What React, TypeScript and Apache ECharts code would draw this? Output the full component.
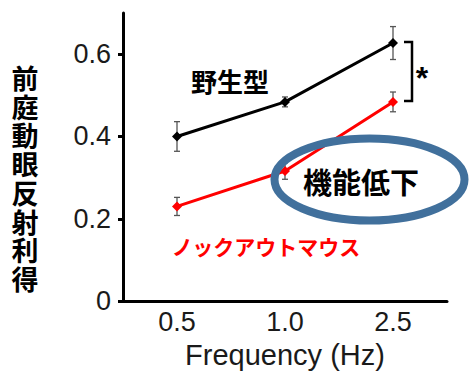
import React, { useEffect, useRef } from "react";
import * as echarts from "echarts";

const categories = ["0.5", "1.0", "2.5"];
const wildType = [0.4, 0.484, 0.627];
const wildTypeErr = [0.036, 0.012, 0.04];
const knockout = [0.23, 0.316, 0.484];
const knockoutErr = [0.022, 0.02, 0.024];
const yTicks = [0, 0.2, 0.4, 0.6];
const yTitle = "前庭動眼反射利得";
const xTitle = "Frequency (Hz)";
const wildLabel = "野生型";
const koLabel = "ノックアウトマウス";
const noteLabel = "機能低下";

const CJK = '"Noto Sans CJK JP", "Noto Sans CJK SC", sans-serif';
const LAT = '"Liberation Sans", Arial, sans-serif';

function errData(vals: number[], errs: number[]) {
  return vals.map((v, i) => [i, v - errs[i], v + errs[i]]);
}

function errRender(params: any, api: any) {
  const x = api.value(0);
  const lo = api.coord([x, api.value(1)]);
  const hi = api.coord([x, api.value(2)]);
  const w = 3;
  const style = { stroke: "#555", lineWidth: 1.3 };
  return {
    type: "group",
    children: [
      { type: "line", shape: { x1: lo[0], y1: lo[1], x2: hi[0], y2: hi[1] }, style },
      { type: "line", shape: { x1: lo[0] - w, y1: lo[1], x2: lo[0] + w, y2: lo[1] }, style },
      { type: "line", shape: { x1: hi[0] - w, y1: hi[1], x2: hi[0] + w, y2: hi[1] }, style },
    ],
  };
}

export default function App() {
  const ref = useRef<HTMLDivElement>(null);
  useEffect(() => {
    if (!ref.current) return;
    const chart = echarts.init(ref.current, undefined, { renderer: "svg" });
    chart.setOption({
      animation: false,
      grid: { left: 123, right: 23, top: 13, bottom: 69 },
      xAxis: {
        type: "category",
        data: categories,
        boundaryGap: true,
        axisLine: { lineStyle: { color: "#000", width: 3 } },
        axisTick: { show: false },
        axisLabel: { fontFamily: LAT, fontSize: 27, color: "#1a1a1a", margin: 7 },
        name: xTitle,
        nameLocation: "middle",
        nameGap: 38,
        nameTextStyle: { fontFamily: LAT, fontSize: 29, color: "#1a1a1a" },
      },
      yAxis: {
        type: "value",
        min: 0,
        max: 0.7,
        splitLine: { show: false },
        axisLine: { show: true, lineStyle: { color: "#000", width: 3 } },
        axisTick: { show: true, length: 5, lineStyle: { width: 3, color: "#000" }, customValues: yTicks },
        axisLabel: { fontFamily: LAT, fontSize: 27, color: "#1a1a1a", margin: 12, customValues: yTicks },
      },
      series: [
        {
          type: "custom",
          renderItem: errRender,
          data: errData(wildType, wildTypeErr),
          z: 1,
        },
        {
          type: "custom",
          renderItem: errRender,
          data: errData(knockout, knockoutErr),
          z: 1,
        },
        {
          name: wildLabel,
          type: "line",
          data: wildType,
          symbol: "diamond",
          symbolSize: 10,
          lineStyle: { color: "#000", width: 3 },
          itemStyle: { color: "#000" },
          z: 3,
        },
        {
          name: koLabel,
          type: "line",
          data: knockout,
          symbol: "diamond",
          symbolSize: 10,
          lineStyle: { color: "#ff0000", width: 3 },
          itemStyle: { color: "#ff0000" },
          z: 3,
        },
      ],
    });

    const top = chart.convertToPixel({ gridIndex: 0 }, [2, wildType[2]]) as number[];
    const bot = chart.convertToPixel({ gridIndex: 0 }, [2, knockout[2]]) as number[];
    const bx = top[0] + 19;
    const chars = yTitle.split("");
    const step = 28.7;
    const titleTop = 178 - ((chars.length - 1) * step) / 2;
    const titleChars = chars.map((ch, i) => ({
      type: "text",
      x: 25,
      y: titleTop + i * step,
      style: {
        text: ch,
        fontFamily: CJK,
        fontWeight: "bold",
        fontSize: 27,
        fill: "#000",
        align: "center",
        verticalAlign: "middle",
      },
    }));
    chart.setOption({
      graphic: [
        ...titleChars,
        {
          type: "text",
          x: 230,
          y: 80,
          style: {
            text: wildLabel,
            fontFamily: CJK,
            fontWeight: "bold",
            fontSize: 26,
            fill: "#000",
            align: "center",
            verticalAlign: "middle",
          },
        },
        {
          type: "text",
          x: 266,
          y: 246,
          style: {
            text: koLabel,
            fontFamily: CJK,
            fontWeight: "bold",
            fontSize: 21,
            fill: "#ff0000",
            align: "center",
            verticalAlign: "middle",
          },
        },
        {
          type: "polyline",
          shape: {
            points: [
              [bx - 8, top[1] - 1],
              [bx, top[1] - 1],
              [bx, bot[1] - 1],
              [bx - 8, bot[1] - 1],
            ],
          },
          style: { stroke: "#000", lineWidth: 2.5, fill: "none" },
          z: 10,
        },
        {
          type: "text",
          x: bx + 10,
          y: (top[1] + bot[1]) / 2 + 6,
          style: {
            text: "*",
            fontFamily: LAT,
            fontWeight: "bold",
            fontSize: 32,
            fill: "#000",
            align: "center",
            verticalAlign: "middle",
          },
        },
        {
          type: "ellipse",
          shape: { cx: 369.5, cy: 179.5, rx: 95, ry: 41 },
          style: { stroke: "#41709c", lineWidth: 8, fill: "none" },
          z: 20,
        },
        {
          type: "text",
          x: 361,
          y: 181,
          style: {
            text: noteLabel,
            fontFamily: CJK,
            fontWeight: "bold",
            fontSize: 29,
            fill: "#000",
            align: "center",
            verticalAlign: "middle",
          },
          z: 21,
        },
      ],
    });
    return () => chart.dispose();
  }, []);
  return (
    <div
      ref={ref}
      style={{ position: "absolute", left: 0, top: 0, width: 470, height: 374, background: "#fff" }}
    />
  );
}
